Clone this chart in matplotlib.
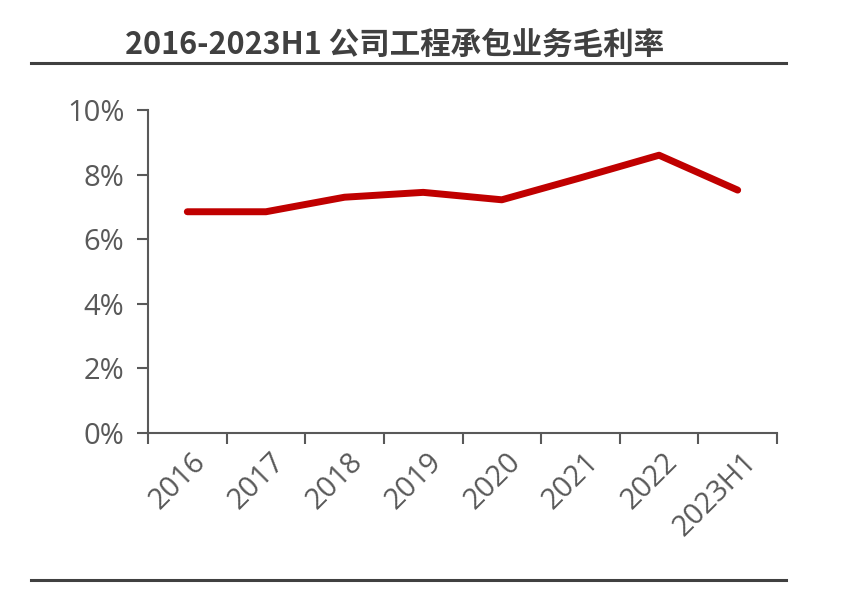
import matplotlib
matplotlib.use("Agg")
import matplotlib.pyplot as plt
from matplotlib.lines import Line2D
import matplotlib.transforms as mtrans

categories = ["2016", "2017", "2018", "2019", "2020", "2021", "2022", "2023H1"]
margin = [6.85, 6.85, 7.3, 7.45, 7.22, 7.9, 8.6, 7.52]
yticks = [0, 2, 4, 6, 8, 10]
title = "2016-2023H1 公司工程承包业务毛利率"

plt.rcParams['font.family'] = ['Open Sans', 'Noto Sans CJK SC', 'DejaVu Sans']

fig = plt.figure(figsize=(8.49, 5.92), dpi=100)
ax = fig.add_axes([148/849, 1-433/592, (777-148)/849, (433-110)/592])

x = list(range(len(categories)))
ax.plot(x, margin, color="#C00000", lw=5, solid_capstyle="round", solid_joinstyle="round")

ax.set_xlim(-0.5, len(categories)-0.5)
ax.set_ylim(0, 10)
ax.set_yticks(yticks)
ax.set_yticklabels([f"{v}%" for v in yticks])

ax.set_xticks(x)
ax.set_xticklabels(categories)
ax.set_xticks([i-0.5 for i in range(len(categories)+1)], minor=True)
ax.tick_params(axis='x', which='major', length=0, pad=10)
ax.tick_params(axis='x', which='minor', length=8, width=1.5, color="#595959", direction='out')
ax.tick_params(axis='y', length=8, width=1.5, color="#595959", direction='out', pad=9)
for lab in ax.get_xticklabels():
    lab.set_rotation(45)
    lab.set_ha('right')
    lab.set_va('top')
    lab.set_rotation_mode('anchor')
    lab.set_transform(lab.get_transform() + mtrans.ScaledTranslation(4/100, 0, fig.dpi_scale_trans))
for lab in ax.get_xticklabels() + ax.get_yticklabels():
    lab.set_fontsize(21)
    lab.set_color("#595959")

for s in ['top', 'right']:
    ax.spines[s].set_visible(False)
for s in ['left', 'bottom']:
    ax.spines[s].set_color("#595959")
    ax.spines[s].set_linewidth(1.5)

fig.text(395/849, 1-45/592, title, ha='center', va='center', fontsize=22,
         fontweight='bold', color="#404040",
         family=['Noto Sans CJK SC', 'DejaVu Sans'])

fig.add_artist(Line2D([31/849, 786/849], [1-63/592, 1-63/592], color="#404040", lw=2.2, transform=fig.transFigure))
fig.add_artist(Line2D([31/849, 786/849], [1-580/592, 1-580/592], color="#404040", lw=2.2, transform=fig.transFigure))

fig.savefig("out.png", dpi=100)
